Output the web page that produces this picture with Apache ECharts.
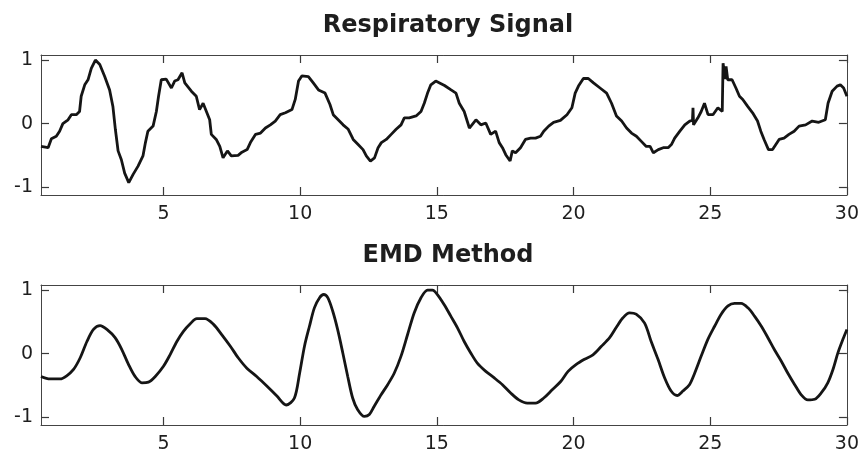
<!DOCTYPE html>
<html>
<head>
<meta charset="utf-8">
<script src="https://cdn.jsdelivr.net/npm/echarts@6/dist/echarts.min.js"></script>
<style>html,body{margin:0;padding:0;background:#fff}#c{width:862px;height:457px}</style>
</head>
<body>
<div id="c"></div>
<script>
var titles = ['Respiratory Signal', 'EMD Method'];
var xTicks = [5, 10, 15, 20, 25, 30];
var yTicks = [-1, 0, 1];

var respTime = [0.52,0.78,0.9,1.08,1.2,1.32,1.51,1.63,1.81,1.93,1.99,2.12,2.24,2.36,2.51,2.67,2.85,3.03,3.15,3.24,3.34,3.46,3.58,3.73,3.89,4.07,4.25,4.34,4.43,4.62,4.74,4.82,4.92,5.1,5.29,5.41,5.53,5.68,5.78,6.02,6.2,6.32,6.45,6.57,6.69,6.75,6.93,7.06,7.18,7.34,7.48,7.73,7.87,8.06,8.18,8.37,8.55,8.73,8.91,9.09,9.27,9.46,9.7,9.82,9.94,10.06,10.3,10.48,10.67,10.91,11.09,11.21,11.39,11.57,11.76,11.94,12.12,12.3,12.42,12.57,12.72,12.85,12.97,13.15,13.33,13.51,13.69,13.81,13.99,14.24,14.42,14.54,14.66,14.78,14.96,15.1,15.28,15.52,15.7,15.82,16.0,16.19,16.43,16.61,16.79,16.97,17.15,17.28,17.4,17.52,17.68,17.76,17.88,18.06,18.24,18.43,18.61,18.79,18.91,19.09,19.27,19.52,19.76,19.94,20.06,20.18,20.36,20.54,20.73,20.97,21.21,21.39,21.57,21.76,21.94,22.12,22.3,22.48,22.66,22.8,22.92,23.1,23.28,23.46,23.58,23.7,23.89,24.07,24.25,24.35,24.37,24.39,24.55,24.67,24.79,24.92,25.1,25.28,25.44,25.47,25.52,25.55,25.58,25.64,25.8,25.94,26.07,26.19,26.37,26.55,26.73,26.85,26.97,27.13,27.28,27.4,27.52,27.7,27.88,28.07,28.25,28.49,28.73,28.97,29.21,29.31,29.46,29.64,29.76,29.88,30.0];
var respValue = [-0.36,-0.38,-0.24,-0.2,-0.12,0,0.06,0.14,0.14,0.19,0.43,0.61,0.69,0.87,1.0,0.93,0.74,0.53,0.27,-0.09,-0.43,-0.57,-0.78,-0.93,-0.8,-0.67,-0.51,-0.3,-0.12,-0.04,0.19,0.43,0.69,0.7,0.56,0.67,0.69,0.8,0.64,0.51,0.43,0.22,0.32,0.19,0.06,-0.17,-0.25,-0.36,-0.54,-0.43,-0.51,-0.5,-0.45,-0.41,-0.3,-0.17,-0.15,-0.07,-0.02,0.04,0.14,0.17,0.22,0.38,0.67,0.75,0.74,0.64,0.53,0.48,0.3,0.14,0.06,-0.02,-0.09,-0.25,-0.33,-0.41,-0.51,-0.59,-0.54,-0.38,-0.3,-0.25,-0.17,-0.09,-0.02,0.09,0.09,0.12,0.19,0.32,0.48,0.61,0.67,0.64,0.6,0.53,0.48,0.32,0.19,-0.07,0.06,-0.02,0.01,-0.17,-0.12,-0.3,-0.38,-0.49,-0.59,-0.43,-0.46,-0.38,-0.25,-0.23,-0.23,-0.2,-0.12,-0.04,0.02,0.05,0.14,0.25,0.48,0.59,0.71,0.71,0.64,0.56,0.48,0.32,0.12,0.04,-0.07,-0.15,-0.2,-0.28,-0.36,-0.36,-0.46,-0.41,-0.38,-0.38,-0.33,-0.23,-0.12,-0.02,0.04,0.05,0.25,-0.02,0.09,0.19,0.32,0.14,0.14,0.25,0.19,0.95,0.95,0.7,0.9,0.69,0.69,0.56,0.43,0.38,0.27,0.17,0.04,-0.12,-0.25,-0.41,-0.41,-0.33,-0.25,-0.23,-0.17,-0.12,-0.04,-0.02,0.04,0.02,0.06,0.32,0.51,0.59,0.61,0.56,0.43];

var emdTime = [0.52,0.85,1.22,1.46,1.71,1.95,2.2,2.44,2.68,2.93,3.23,3.48,3.72,3.96,4.21,4.45,4.7,5.0,5.24,5.49,5.73,5.98,6.22,6.52,6.83,7.13,7.44,7.74,8.05,8.41,8.78,9.15,9.49,9.79,9.98,10.16,10.34,10.52,10.71,10.86,11.01,11.19,11.37,11.56,11.74,11.92,12.1,12.35,12.53,12.71,12.96,13.2,13.44,13.69,13.93,14.17,14.42,14.66,14.84,15.02,15.27,15.51,15.75,16.0,16.24,16.48,16.79,17.09,17.4,17.7,18.0,18.31,18.61,18.91,19.22,19.53,19.8,20.1,20.4,20.71,21.01,21.32,21.56,21.8,22.05,22.29,22.6,22.84,23.09,23.33,23.57,23.79,24.0,24.24,24.43,24.67,24.91,25.16,25.4,25.65,25.89,26.13,26.38,26.62,26.87,27.11,27.35,27.6,27.84,28.09,28.33,28.57,28.82,29.06,29.3,29.49,29.67,29.85,30.0];
var emdValue = [-0.36,-0.4,-0.4,-0.35,-0.25,-0.07,0.19,0.38,0.44,0.38,0.25,0.06,-0.17,-0.36,-0.46,-0.45,-0.36,-0.2,-0.02,0.19,0.35,0.47,0.55,0.55,0.46,0.3,0.12,-0.07,-0.23,-0.36,-0.51,-0.67,-0.81,-0.7,-0.31,0.12,0.43,0.72,0.88,0.93,0.88,0.67,0.38,0.01,-0.36,-0.7,-0.88,-0.99,-0.96,-0.83,-0.65,-0.49,-0.31,-0.04,0.3,0.64,0.88,1.0,1.0,0.93,0.77,0.59,0.41,0.19,0.01,-0.15,-0.28,-0.38,-0.49,-0.62,-0.73,-0.78,-0.78,-0.7,-0.57,-0.44,-0.28,-0.17,-0.09,-0.02,0.11,0.25,0.41,0.56,0.64,0.62,0.48,0.19,-0.09,-0.38,-0.59,-0.66,-0.59,-0.49,-0.31,-0.04,0.22,0.43,0.62,0.75,0.79,0.79,0.72,0.59,0.43,0.25,0.06,-0.12,-0.31,-0.49,-0.65,-0.73,-0.72,-0.62,-0.46,-0.25,0.01,0.22,0.38];

function pairs(t, v) { return t.map(function (x, i) { return [x, v[i]]; }); }

var FONT = 'DejaVu Sans';
var TXT = '#1e1e1e';
var AX = '#444';
var TICK = '#3a3a3a';
var grids = [
  { left: 41, top: 55, width: 806, height: 140 },
  { left: 41, top: 285, width: 806, height: 140 }
];

var xAxes = [], yAxes = [];
// labelled axes first (bottom / left), then tick-only axes (top / right)
[0, 1].forEach(function (side) {
  grids.forEach(function (g, gi) {
    xAxes.push({
      type: 'value', gridIndex: gi, min: 0.52, max: 30,
      position: side === 0 ? 'bottom' : 'top',
      axisLine: { show: true, onZero: false, lineStyle: { color: AX, width: 1 } },
      splitLine: { show: false },
      axisTick: { show: true, inside: true, length: 8, lineStyle: { color: TICK, width: 1.2 }, customValues: xTicks },
      axisLabel: { show: side === 0, margin: 10, color: TXT, fontFamily: FONT, fontSize: 19, customValues: xTicks }
    });
    yAxes.push({
      type: 'value', gridIndex: gi, min: -1.125, max: 1.08,
      position: side === 0 ? 'left' : 'right',
      axisLine: { show: true, onZero: false, lineStyle: { color: AX, width: 1 } },
      splitLine: { show: false },
      axisTick: { show: true, inside: true, length: 8, lineStyle: { color: TICK, width: 1.2 }, customValues: yTicks },
      axisLabel: { show: side === 0, margin: 8, color: TXT, fontFamily: FONT, fontSize: 19, customValues: yTicks }
    });
  });
});

var option = {
  animation: false,
  backgroundColor: '#fff',
  title: [
    { text: titles[0], left: 443, top: 9, textAlign: 'center', textStyle: { fontFamily: FONT, fontWeight: 'bold', fontSize: 24, color: TXT } },
    { text: titles[1], left: 443, top: 239, textAlign: 'center', textStyle: { fontFamily: FONT, fontWeight: 'bold', fontSize: 24, color: TXT } }
  ],
  grid: grids.map(function (g) { return Object.assign({ show: false }, g); }),
  xAxis: xAxes,
  yAxis: yAxes,
  series: [
    { type: 'line', xAxisIndex: 0, yAxisIndex: 0, data: pairs(respTime, respValue), showSymbol: false, lineStyle: { color: '#151515', width: 2.8 } },
    { type: 'line', xAxisIndex: 1, yAxisIndex: 1, data: pairs(emdTime, emdValue), showSymbol: false, smooth: 0.3, lineStyle: { color: '#151515', width: 2.8 } }
  ]
};
echarts.init(document.getElementById('c')).setOption(option);
</script>
</body>
</html>
